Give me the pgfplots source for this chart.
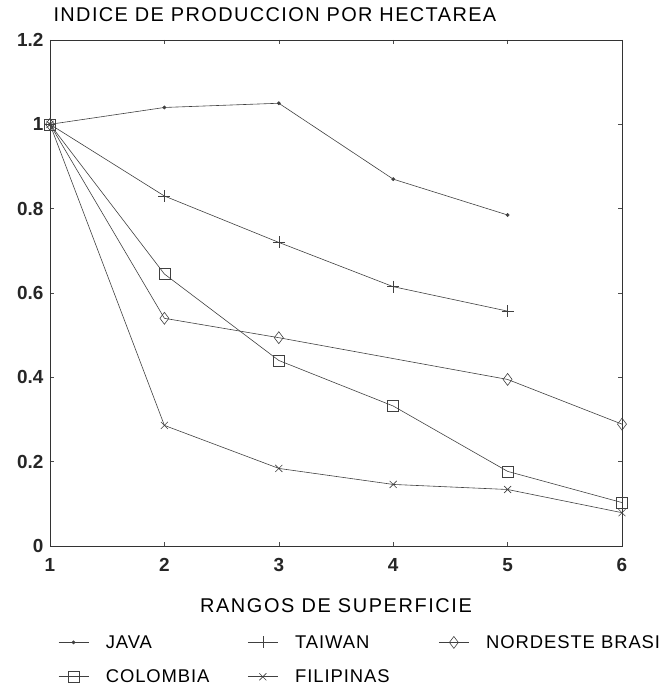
\documentclass[border=0pt]{standalone}
\usepackage{fontspec}
\setmainfont{Liberation Sans}
\usepackage{pgfplots}
\pgfplotsset{compat=1.18}
\begin{document}
\begin{tikzpicture}
\begin{axis}[
  name=ax,
  scale only axis,
  width=572bp, height=506bp,
  xmin=1, xmax=6, ymin=0, ymax=1.2,
  xtick={1,2,3,4,5,6}, ytick={0,0.2,0.4,0.6,0.8,1,1.2},
  yticklabels={0,0.2,0.4,0.6,0.8,1,1.2},
  tick align=inside, major tick length=4bp,
  tick style={black!70, line width=0.5pt},
  axis line style={black!80, line width=0.7pt},
  /pgf/number format/assume math mode=true,
  ticklabel style={font=\fontsize{19}{22}\selectfont\bfseries, black!85},
  yticklabel style={xshift=-3bp},
  xticklabel style={yshift=-9bp},
  title={INDICE DE PRODUCCION POR HECTAREA},
  title style={at={(axis description cs:0,1.0375)}, anchor=west, font=\fontsize{20}{24}\selectfont\addfontfeatures{LetterSpace=7}},
  xlabel={RANGOS DE SUPERFICIE},
  xlabel style={at={(axis description cs:0.5,-0.118)}, anchor=center, font=\fontsize{20}{24}\selectfont\addfontfeatures{LetterSpace=8}},
  legend columns=3,
  legend style={at={(axis description cs:0.014,-0.172)}, anchor=north west, draw=none, fill=none,
    font=\fontsize{18.5}{22}\selectfont\addfontfeatures{LetterSpace=5},
    row sep=16bp, inner sep=0pt,
    nodes={inner sep=2bp},
    /tikz/every odd column/.append style={column sep=15bp},
    /tikz/column 2/.style={column sep=36bp},
    /tikz/column 4/.style={column sep=47bp}},
  legend cell align=left,
  legend image code/.code={\draw[mark repeat=2, mark phase=2, #1] plot coordinates {(0bp,0bp) (15bp,0bp) (30bp,0bp)};},
  every axis plot/.append style={black!75, line width=0.6pt},
]
\addplot[mark=*, mark size=1.6pt] coordinates {(1,1.0) (2,1.04) (3,1.05) (4,0.87) (5,0.785)};
\addlegendentry{JAVA}
\addplot[mark=+, mark size=6pt] coordinates {(1,1.0) (2,0.83) (3,0.72) (4,0.615) (5,0.557)};
\addlegendentry{TAIWAN}
\addplot[mark=diamond, mark size=6pt] coordinates {(1,1.0) (2,0.54) (3,0.494) (5,0.395) (6,0.289)};
\addlegendentry{NORDESTE BRASI}
\addplot[mark=square, mark size=5.5pt] coordinates {(1,1.0) (2,0.645) (3,0.44) (4,0.332) (5,0.177) (6,0.103)};
\addlegendentry{COLOMBIA}
\addplot[mark=x, mark size=5pt] coordinates {(1,1.0) (2,0.286) (3,0.184) (4,0.146) (5,0.134) (6,0.079)};
\addlegendentry{FILIPINAS}
\end{axis}
\pgfresetboundingbox
\path[use as bounding box] ([xshift=-50bp,yshift=-139bp]ax.south west) rectangle ([xshift=41bp,yshift=40bp]ax.north east);
\end{tikzpicture}
\end{document}
